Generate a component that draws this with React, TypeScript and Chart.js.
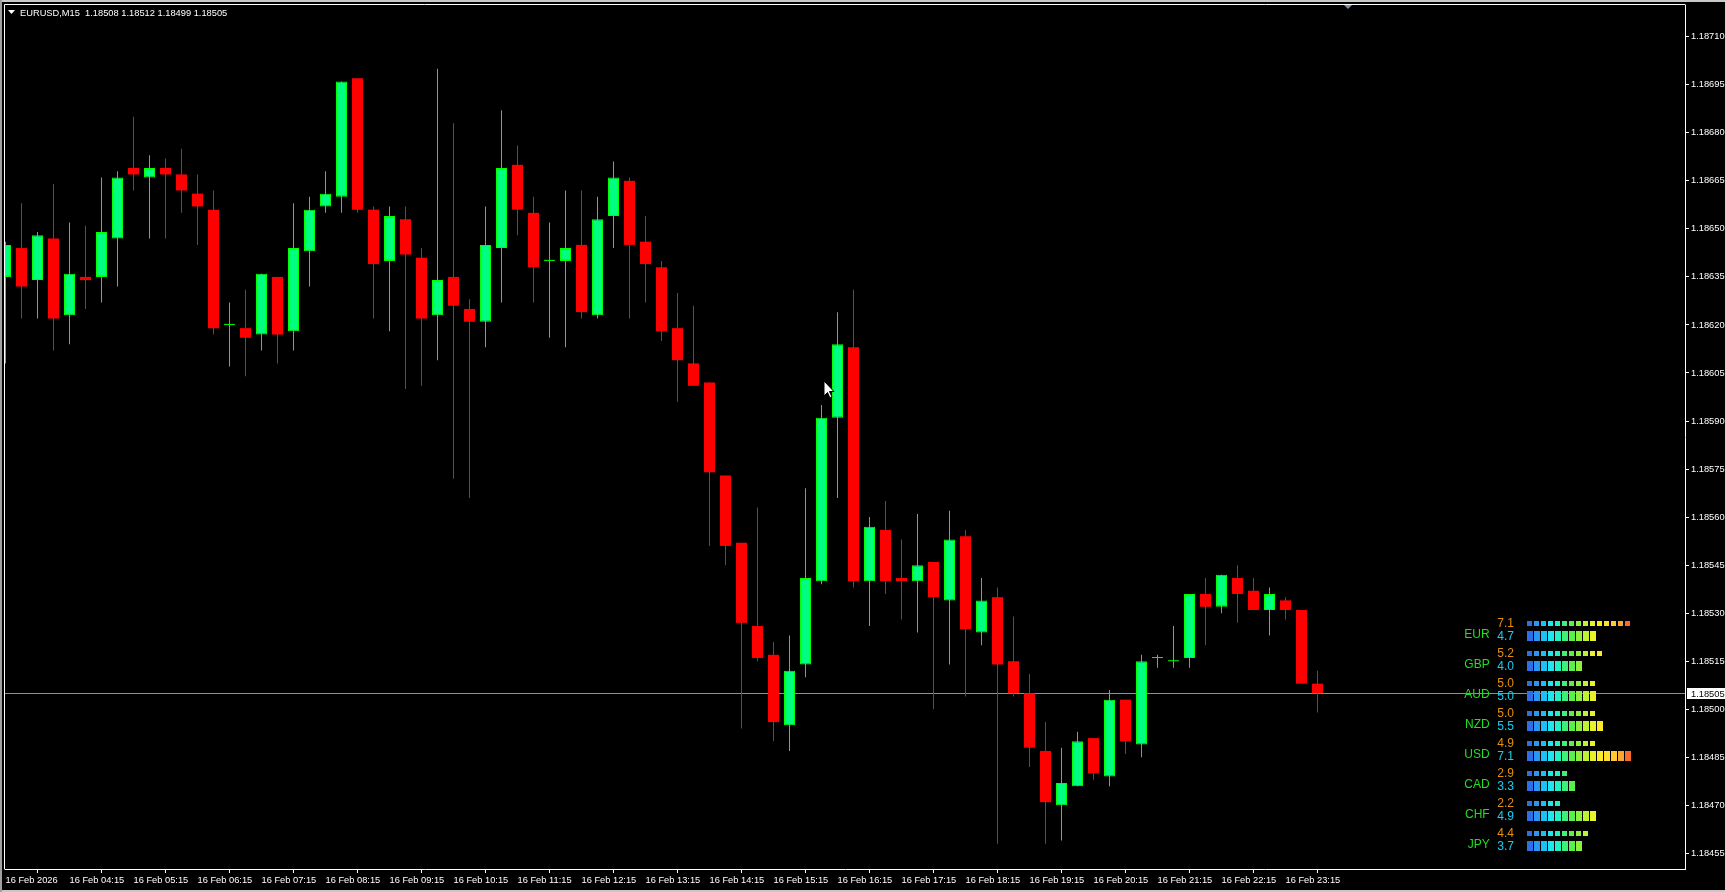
import React, { useEffect, useRef } from 'react';
import { Chart, registerables } from 'chart.js';

Chart.register(...registerables);

// ---------- data ----------
const symbolTitle = 'EURUSD,M15  1.18508 1.18512 1.18499 1.18505';

const xTickLabels = [
  '16 Feb 2026', '16 Feb 04:15', '16 Feb 05:15', '16 Feb 06:15', '16 Feb 07:15',
  '16 Feb 08:15', '16 Feb 09:15', '16 Feb 10:15', '16 Feb 11:15', '16 Feb 12:15',
  '16 Feb 13:15', '16 Feb 14:15', '16 Feb 15:15', '16 Feb 16:15', '16 Feb 17:15',
  '16 Feb 18:15', '16 Feb 19:15', '16 Feb 20:15', '16 Feb 21:15', '16 Feb 22:15',
  '16 Feb 23:15',
];
const candlesPerTick = 4;

const candleOpen = [
  1.18635, 1.18644, 1.18634, 1.18647, 1.18623, 1.18635, 1.18635, 1.18647, 1.18669, 1.18666,
  1.18669, 1.18667, 1.18661, 1.18656, 1.18620, 1.18619, 1.18617, 1.18635, 1.18618, 1.18643,
  1.18657, 1.18660, 1.18697, 1.18656, 1.18640, 1.18653, 1.18641, 1.18623, 1.18635, 1.18625,
  1.18621, 1.18644, 1.18670, 1.18655, 1.18640, 1.18640, 1.18645, 1.18623, 1.18654, 1.18665,
  1.18646, 1.18638, 1.18619, 1.18608, 1.18602, 1.18573, 1.18552, 1.18526, 1.18517, 1.18495,
  1.18514, 1.18540, 1.18591, 1.18613, 1.18540, 1.18556, 1.18541, 1.18540, 1.18546, 1.18534,
  1.18554, 1.18524, 1.18535, 1.18515, 1.18505, 1.18487, 1.18470, 1.18476, 1.18491, 1.18479,
  1.18503, 1.18489, 1.18516, 1.18515, 1.18516, 1.18536, 1.18532, 1.18541, 1.18537, 1.18531,
  1.18534, 1.18531, 1.18508,
];
const candleHigh = [
  1.18646, 1.18658, 1.18649, 1.18664, 1.18652, 1.18651, 1.18666, 1.18668, 1.18685, 1.18673,
  1.18672, 1.18675, 1.18667, 1.18662, 1.18627, 1.18631, 1.18636, 1.18635, 1.18658, 1.18660,
  1.18668, 1.18696, 1.18697, 1.18657, 1.18657, 1.18657, 1.18644, 1.18700, 1.18683, 1.18628,
  1.18657, 1.18687, 1.18676, 1.18660, 1.18652, 1.18662, 1.18662, 1.18660, 1.18671, 1.18666,
  1.18654, 1.18640, 1.18630, 1.18626, 1.18602, 1.18573, 1.18552, 1.18563, 1.18521, 1.18523,
  1.18569, 1.18595, 1.18624, 1.18631, 1.18560, 1.18565, 1.18553, 1.18561, 1.18546, 1.18562,
  1.18556, 1.18541, 1.18538, 1.18529, 1.18511, 1.18496, 1.18488, 1.18493, 1.18491, 1.18506,
  1.18503, 1.18517, 1.18517, 1.18526, 1.18536, 1.18541, 1.18542, 1.18545, 1.18541, 1.18538,
  1.18535, 1.18531, 1.18512,
];
const candleLow = [
  1.18608, 1.18622, 1.18622, 1.18612, 1.18614, 1.18625, 1.18627, 1.18632, 1.18662, 1.18647,
  1.18647, 1.18655, 1.18645, 1.18617, 1.18607, 1.18604, 1.18612, 1.18608, 1.18612, 1.18632,
  1.18655, 1.18655, 1.18655, 1.18622, 1.18618, 1.18600, 1.18601, 1.18609, 1.18572, 1.18566,
  1.18613, 1.18627, 1.18648, 1.18627, 1.18616, 1.18613, 1.18622, 1.18622, 1.18644, 1.18622,
  1.18627, 1.18615, 1.18596, 1.18601, 1.18551, 1.18545, 1.18494, 1.18515, 1.18490, 1.18487,
  1.18510, 1.18539, 1.18566, 1.18538, 1.18526, 1.18536, 1.18528, 1.18524, 1.18500, 1.18514,
  1.18504, 1.18520, 1.18458, 1.18504, 1.18482, 1.18458, 1.18459, 1.18476, 1.18478, 1.18476,
  1.18486, 1.18485, 1.18513, 1.18513, 1.18513, 1.18520, 1.18530, 1.18527, 1.18531, 1.18523,
  1.18528, 1.18508, 1.18499,
];
const candleClose = [
  1.18645, 1.18632, 1.18648, 1.18622, 1.18636, 1.18634, 1.18649, 1.18666, 1.18667, 1.18669,
  1.18667, 1.18662, 1.18657, 1.18619, 1.18620, 1.18616, 1.18636, 1.18617, 1.18644, 1.18656,
  1.18661, 1.18696, 1.18656, 1.18639, 1.18654, 1.18642, 1.18622, 1.18634, 1.18626, 1.18621,
  1.18645, 1.18669, 1.18656, 1.18638, 1.18640, 1.18644, 1.18624, 1.18653, 1.18666, 1.18645,
  1.18639, 1.18618, 1.18609, 1.18601, 1.18574, 1.18551, 1.18527, 1.18516, 1.18496, 1.18512,
  1.18541, 1.18591, 1.18614, 1.18540, 1.18557, 1.18540, 1.18540, 1.18545, 1.18535, 1.18553,
  1.18525, 1.18534, 1.18514, 1.18505, 1.18488, 1.18471, 1.18477, 1.18490, 1.18480, 1.18503,
  1.18490, 1.18515, 1.18516, 1.18515, 1.18536, 1.18532, 1.18542, 1.18536, 1.18531, 1.18536,
  1.18531, 1.18508, 1.18505,
];

const yTickValues = [
  1.18455, 1.18470, 1.18485, 1.18500, 1.18515, 1.18530, 1.18545, 1.18560, 1.18575,
  1.18590, 1.18605, 1.18620, 1.18635, 1.18650, 1.18665, 1.18680, 1.18695, 1.18710,
];
const currentPrice = 1.18505;

const currencies = ['EUR', 'GBP', 'AUD', 'NZD', 'USD', 'CAD', 'CHF', 'JPY'];
const strengthFast = [7.1, 5.2, 5.0, 5.0, 4.9, 2.9, 2.2, 4.4];
const strengthSlow = [4.7, 4.0, 5.0, 5.5, 7.1, 3.3, 4.9, 3.7];

// ---------- styles / layout ----------
const FONT = 'Liberation Sans';
const W = 1725;
const H = 892;
const PX_PER_CANDLE = 16;
const AREA_LEFT = 5;
const AREA_RIGHT = 1685;
const X_MIN = -0.5 / PX_PER_CANDLE;
const X_MAX = X_MIN + (AREA_RIGHT - AREA_LEFT) / PX_PER_CANDLE;
const Y_MAX = 1.18719898;
const Y_MIN = 1.1845013;

const GREEN_BODY = '#00ff7f';
const GREEN_EDGE = '#00ff00';
const GREEN_WICK = '#2fd82f';
const RED_BODY = '#ff0000';
const RED_WICK = '#e81010';

const squarePalette = [
  '#2e6fe8', '#2896f2', '#1ec0f4', '#1ee6ee', '#22f0c8', '#3cf07a', '#58f04a', '#8cf03c',
  '#bef034', '#eaf02a', '#faea28', '#ffde30', '#ffc832', '#fca632', '#fa6a2a',
];

const isUp = (i: number) => candleClose[i] >= candleOpen[i];

const mt4Plugin = {
  id: 'mt4',
  beforeDraw(chart: any) {
    const c = chart.ctx;
    c.save();
    c.fillStyle = '#000000';
    c.fillRect(0, 0, chart.width, chart.height);
    c.fillStyle = '#c8c8c8';
    c.fillRect(0, 0, chart.width, 2);
    c.fillRect(0, chart.height - 2, chart.width, 2);
    c.fillStyle = '#a0a0a0';
    c.fillRect(0, 0, 2, chart.height);
    c.restore();
  },
  beforeDatasetsDraw(chart: any) {
    const c = chart.ctx;
    const a = chart.chartArea;
    const y = Math.round(chart.scales.y.getPixelForValue(currentPrice)) + 0.5;
    c.save();
    c.strokeStyle = '#8a8e96';
    c.lineWidth = 1;
    c.beginPath();
    c.moveTo(a.left, y);
    c.lineTo(a.right, y);
    c.stroke();
    c.restore();
  },
  afterDraw(chart: any) {
    const c = chart.ctx;
    const a = chart.chartArea;
    c.save();
    // frame top / left
    c.strokeStyle = '#ffffff';
    c.lineWidth = 1;
    c.beginPath();
    c.moveTo(a.left - 0.5, a.top - 0.5);
    c.lineTo(a.right + 0.5, a.top - 0.5);
    c.moveTo(a.left - 0.5, a.top - 0.5);
    c.lineTo(a.left - 0.5, a.bottom + 0.5);
    c.stroke();
    // title
    c.fillStyle = '#ffffff';
    c.beginPath();
    c.moveTo(8, 10);
    c.lineTo(15, 10);
    c.lineTo(11.5, 14);
    c.closePath();
    c.fill();
    c.font = `9.3px "${FONT}"`;
    c.textBaseline = 'middle';
    c.textAlign = 'left';
    c.fillText(symbolTitle, 20, 13);
    // chart shift marker
    c.fillStyle = '#7f8ea0';
    c.beginPath();
    c.moveTo(1344, 5);
    c.lineTo(1352, 5);
    c.lineTo(1348, 9);
    c.closePath();
    c.fill();
    // current price label
    const y = Math.round(chart.scales.y.getPixelForValue(currentPrice));
    c.fillStyle = '#ffffff';
    c.fillRect(a.right + 2, y - 5, W - a.right - 2, 11);
    c.fillStyle = '#000000';
    c.fillText(currentPrice.toFixed(5), a.right + 6, y + 1);
    // mouse cursor
    const cx = 824;
    const cy = 381;
    c.beginPath();
    c.moveTo(cx, cy);
    c.lineTo(cx, cy + 15);
    c.lineTo(cx + 3.5, cy + 11.5);
    c.lineTo(cx + 6, cy + 17);
    c.lineTo(cx + 8, cy + 16);
    c.lineTo(cx + 5.5, cy + 10.5);
    c.lineTo(cx + 10, cy + 10.5);
    c.closePath();
    c.fillStyle = '#ffffff';
    c.fill();
    c.strokeStyle = '#000000';
    c.stroke();
    c.restore();
  },
};

const ROW_OFF = 6.25 / 30;
const panelTextPlugin = {
  id: 'panelText',
  afterDatasetsDraw(chart: any) {
    const c = chart.ctx;
    const ys = chart.scales.y;
    c.save();
    c.font = `12px "${FONT}"`;
    c.textBaseline = 'alphabetic';
    currencies.forEach((cur, i) => {
      const py = ys.getPixelForValue(i);
      c.textAlign = 'right';
      c.fillStyle = '#1ee01e';
      c.fillText(cur, 49.7, py + 8);
      c.textAlign = 'left';
      c.fillStyle = '#e8900c';
      c.fillText(strengthFast[i].toFixed(1), 57.3, py - 2.75);
      c.fillStyle = '#1eccee';
      c.fillText(strengthSlow[i].toFixed(1), 57.3, py + 10);
    });
    c.restore();
  },
};

export default function App() {
  const mainRef = useRef<HTMLCanvasElement>(null);
  const panelRef = useRef<HTMLCanvasElement>(null);

  useEffect(() => {
    const idx = candleOpen.map((_, i) => i);
    const wickData = idx.map((i) => ({ x: i, y: [candleLow[i], candleHigh[i]] }));
    const bodyData = idx.map((i) => ({ x: i, y: [candleOpen[i], candleClose[i]] }));

    const main = new Chart(mainRef.current as HTMLCanvasElement, {
      type: 'bar',
      data: {
        datasets: [
          {
            label: 'wick',
            data: wickData as any,
            grouped: false,
            barThickness: 1,
            minBarLength: 1,
            inflateAmount: 0,
            borderWidth: 0,
            backgroundColor: (ctx: any) => (isUp(ctx.dataIndex) ? GREEN_WICK : RED_WICK),
            clip: 0,
            order: 2,
          } as any,
          {
            label: 'body',
            data: bodyData as any,
            grouped: false,
            barThickness: 11,
            minBarLength: 1,
            inflateAmount: 0,
            borderSkipped: false,
            borderWidth: (ctx: any) => {
              const i = ctx.dataIndex;
              if (candleOpen[i] === candleClose[i]) return 0;
              return isUp(i) ? 1 : 0;
            },
            borderColor: (ctx: any) => (isUp(ctx.dataIndex) ? GREEN_EDGE : RED_BODY),
            backgroundColor: (ctx: any) => {
              const i = ctx.dataIndex;
              if (candleOpen[i] === candleClose[i]) return GREEN_EDGE;
              return isUp(i) ? GREEN_BODY : RED_BODY;
            },
            clip: 0,
            order: 1,
          } as any,
        ],
      },
      options: {
        responsive: false,
        devicePixelRatio: 1,
        animation: false,
        events: [],
        layout: { padding: { left: AREA_LEFT, top: 5, right: 0, bottom: 0 } },
        plugins: { legend: { display: false }, tooltip: { enabled: false } },
        scales: {
          x: {
            type: 'linear',
            min: X_MIN,
            max: X_MAX,
            offset: false,
            grid: { display: true, drawOnChartArea: false, drawTicks: true, tickLength: 4, color: '#ffffff', lineWidth: 1 },
            border: { display: true, color: '#ffffff', width: 1 },
            ticks: {
              autoSkip: false,
              maxRotation: 0,
              minRotation: 0,
              align: 'start',
              padding: 2,
              color: '#ffffff',
              font: { family: FONT, size: 9.3 },
              callback: (v: any) => xTickLabels[Math.round(Number(v) / candlesPerTick)] ?? '',
            },
            afterBuildTicks: (s: any) => {
              s.ticks = xTickLabels.map((_, k) => ({ value: k * candlesPerTick }));
            },
            afterFit: (s: any) => {
              s.height = H - 869;
              s.paddingLeft = 0;
              s.paddingRight = 0;
            },
          } as any,
          y: {
            type: 'linear',
            position: 'right',
            min: Y_MIN,
            max: Y_MAX,
            grid: { display: true, drawOnChartArea: false, drawTicks: true, tickLength: 4, color: '#ffffff', lineWidth: 1 },
            border: { display: true, color: '#ffffff', width: 1 },
            ticks: {
              padding: 2,
              color: '#ffffff',
              font: { family: FONT, size: 9.3 },
              callback: (v: any) => Number(v).toFixed(5),
            },
            afterBuildTicks: (s: any) => {
              s.ticks = yTickValues.map((v) => ({ value: v }));
            },
            afterFit: (s: any) => {
              s.width = W - AREA_RIGHT;
              s.paddingTop = 0;
              s.paddingBottom = 0;
            },
          } as any,
        },
      } as any,
      plugins: [mt4Plugin],
    });

    const topSquares: any[] = [];
    const bottomSquares: any[] = [];
    currencies.forEach((_, i) => {
      const nTop = Math.ceil(strengthFast[i] * 2 - 1e-9);
      const nBot = Math.ceil(strengthSlow[i] * 2 - 1e-9);
      for (let k = 0; k < nTop; k++) topSquares.push({ y: i - ROW_OFF, x: [k * 0.5, k * 0.5 + 5 / 14], k });
      for (let k = 0; k < nBot; k++) bottomSquares.push({ y: i + ROW_OFF, x: [k * 0.5, k * 0.5 + 6 / 14], k });
    });

    const panel = new Chart(panelRef.current as HTMLCanvasElement, {
      type: 'bar',
      data: {
        datasets: [
          {
            label: 'fast',
            data: topSquares,
            grouped: false,
            barThickness: 5,
            inflateAmount: 0,
            borderWidth: 0,
            backgroundColor: (ctx: any) => squarePalette[ctx.raw ? ctx.raw.k : 0],
          } as any,
          {
            label: 'slow',
            data: bottomSquares,
            grouped: false,
            barThickness: 10,
            inflateAmount: 0,
            borderWidth: 0,
            backgroundColor: (ctx: any) => squarePalette[ctx.raw ? ctx.raw.k : 0],
          } as any,
        ],
      },
      options: {
        indexAxis: 'y',
        responsive: false,
        devicePixelRatio: 1,
        animation: false,
        events: [],
        layout: { padding: 0 },
        plugins: { legend: { display: false }, tooltip: { enabled: false } },
        scales: {
          x: { type: 'linear', display: false, offset: false, min: -87 / 14, max: -87 / 14 + 200 / 14 },
          y: { type: 'linear', display: false, offset: false, min: -29.75 / 30, max: -29.75 / 30 + 9, reverse: true },
        },
      } as any,
      plugins: [panelTextPlugin],
    });

    return () => {
      main.destroy();
      panel.destroy();
    };
  }, []);

  return (
    <div style={{ position: 'fixed', left: 0, top: 0, width: W, height: H, overflow: 'hidden', background: '#000' }}>
      <canvas ref={mainRef} width={W} height={H} style={{ position: 'absolute', left: 0, top: 0, width: W, height: H }} />
      <canvas
        ref={panelRef}
        width={200}
        height={270}
        style={{ position: 'absolute', left: 1440, top: 600, width: 200, height: 270, pointerEvents: 'none' }}
      />
    </div>
  );
}
